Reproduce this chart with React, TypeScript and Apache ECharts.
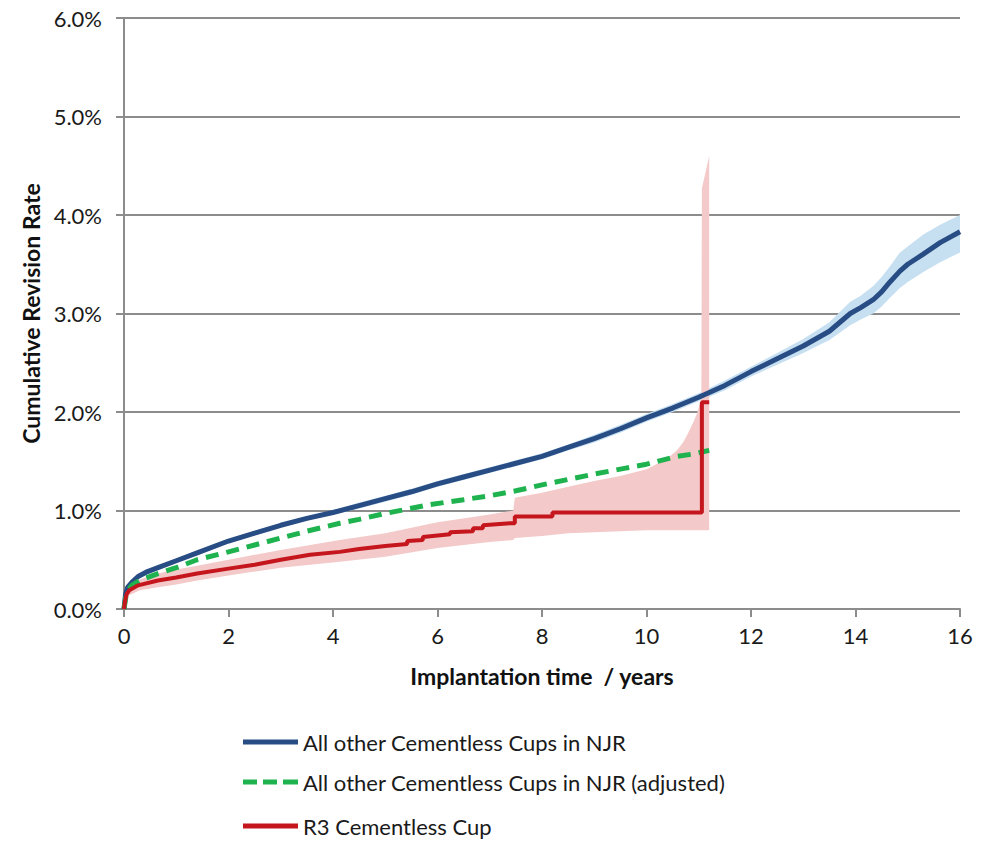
import React, { useEffect, useRef } from "react";
import * as echarts from "echarts";

// ---- data ----
const xTicks = [0, 2, 4, 6, 8, 10, 12, 14, 16];
const yTicks = [0, 1, 2, 3, 4, 5, 6];

const allYears = [0, 0.03, 0.07, 0.15, 0.27, 0.45, 0.65, 1.0, 1.4, 2.0, 2.5, 3.0, 3.5, 4.0, 4.5, 5.0, 5.5, 6.0, 6.5, 7.0, 7.5, 8.0, 8.5, 9.0, 9.5, 10.0, 10.5, 11.0, 11.5, 12.0, 12.5, 13.0, 13.5, 13.9, 14.1, 14.34, 14.5, 14.66, 14.85, 15.0, 15.29, 15.62, 16.0];
const allRate = [0, 0.15, 0.22, 0.27, 0.33, 0.38, 0.42, 0.49, 0.57, 0.69, 0.77, 0.85, 0.92, 0.98, 1.05, 1.12, 1.19, 1.27, 1.34, 1.41, 1.48, 1.55, 1.64, 1.73, 1.83, 1.94, 2.04, 2.15, 2.27, 2.41, 2.54, 2.67, 2.82, 3.0, 3.06, 3.14, 3.22, 3.32, 3.43, 3.5, 3.6, 3.72, 3.83];
const allLow = [0, 0.14, 0.2, 0.25, 0.31, 0.36, 0.4, 0.47, 0.55, 0.67, 0.75, 0.83, 0.9, 0.96, 1.02, 1.09, 1.16, 1.24, 1.31, 1.38, 1.45, 1.52, 1.61, 1.69, 1.79, 1.9, 2.0, 2.11, 2.22, 2.36, 2.48, 2.6, 2.73, 2.88, 2.94, 3.0, 3.07, 3.16, 3.26, 3.32, 3.42, 3.52, 3.62];
const allHigh = [0, 0.16, 0.24, 0.29, 0.35, 0.4, 0.44, 0.51, 0.59, 0.71, 0.79, 0.87, 0.94, 1.0, 1.08, 1.15, 1.22, 1.3, 1.37, 1.44, 1.51, 1.58, 1.67, 1.77, 1.87, 1.98, 2.08, 2.19, 2.32, 2.46, 2.6, 2.74, 2.91, 3.12, 3.18, 3.28, 3.37, 3.48, 3.62, 3.68, 3.8, 3.9, 4.0];

const adjYears = [0, 0.05, 0.15, 0.3, 0.65, 1.0, 1.4, 2.0, 2.5, 3.0, 3.5, 4.13, 4.5, 5.0, 5.86, 6.5, 7.0, 7.5, 8.0, 8.54, 9.0, 9.6, 10.0, 10.58, 10.85, 11.2];
const adjRate = [0, 0.17, 0.24, 0.29, 0.36, 0.42, 0.5, 0.58, 0.65, 0.72, 0.79, 0.87, 0.91, 0.97, 1.06, 1.11, 1.15, 1.2, 1.26, 1.32, 1.37, 1.43, 1.47, 1.55, 1.57, 1.61];

const r3Years = [0, 0.02, 0.05, 0.1, 0.27, 0.65, 1.0, 1.4, 2.0, 2.5, 3.0, 3.56, 4.13, 4.5, 5.0, 5.42, 5.42, 5.72, 5.72, 6.24, 6.24, 6.68, 6.68, 6.87, 6.87, 7.39, 7.48, 7.48, 8.2, 8.2, 11.06, 11.06, 11.2];
const r3Rate = [0, 0.08, 0.15, 0.19, 0.24, 0.29, 0.32, 0.36, 0.41, 0.45, 0.5, 0.55, 0.58, 0.61, 0.64, 0.66, 0.69, 0.7, 0.73, 0.76, 0.78, 0.79, 0.82, 0.82, 0.85, 0.87, 0.87, 0.94, 0.94, 0.98, 0.98, 2.1, 2.1];
const r3BandYears = [0, 0.05, 0.1, 0.3, 0.65, 1.0, 1.4, 2.0, 3.0, 4.13, 5.0, 6.0, 7.0, 7.45, 7.48, 8.0, 8.5, 9.0, 9.5, 10.0, 10.3, 10.45, 10.58, 10.7, 10.8, 10.9, 10.97, 11.05, 11.06, 11.2];
const r3Low = [0, 0.1, 0.14, 0.19, 0.22, 0.25, 0.29, 0.34, 0.42, 0.48, 0.53, 0.62, 0.68, 0.7, 0.72, 0.74, 0.77, 0.78, 0.79, 0.8, 0.8, 0.8, 0.8, 0.8, 0.8, 0.8, 0.8, 0.8, 0.8, 0.8];
const r3High = [0, 0.2, 0.25, 0.3, 0.36, 0.4, 0.44, 0.5, 0.6, 0.7, 0.77, 0.88, 0.96, 1.0, 1.13, 1.18, 1.24, 1.3, 1.35, 1.42, 1.5, 1.55, 1.61, 1.69, 1.79, 1.9, 1.99, 2.15, 4.27, 4.6];

const NAME_ALL = "All other Cementless Cups in NJR";
const NAME_ADJ = "All other Cementless Cups in NJR (adjusted)";
const NAME_R3 = "R3 Cementless Cup";
const legendNames = [NAME_ALL, NAME_ADJ, NAME_R3];

const FONT = "Lato";
const SOLID_ICON = "path://M0,0h55v5h-55z";
const DASH_ICON = "path://M0,0h14v5h-14z M20,0h14v5h-14z M40,0h15v5h-15z";

function bandSeries(years: number[], low: number[], high: number[], color: string, name: string) {
  const rows = years.map((x, i) => [x, low[i], high[i]]);
  return {
    type: "custom",
    name,
    z: 1,
    silent: true,
    data: rows,
    encode: { x: 0, y: [1, 2] },
    renderItem: (params: any, api: any) => {
      if (params.dataIndex !== 0) return null;
      const pts: number[][] = [];
      for (let i = 0; i < rows.length; i++) pts.push(api.coord([rows[i][0], rows[i][2]]));
      for (let i = rows.length - 1; i >= 0; i--) pts.push(api.coord([rows[i][0], rows[i][1]]));
      return {
        type: "polygon",
        shape: { points: pts },
        style: { fill: color, stroke: "none" },
      };
    },
  };
}

export default function App() {
  const ref = useRef<HTMLDivElement>(null);
  useEffect(() => {
    if (!ref.current) return;
    const chart = echarts.init(ref.current, null, { renderer: "svg" });
    const legendTops = [726, 766, 810];
    const legends = legendNames.map((name, i) => ({
      orient: "horizontal",
      left: 238,
      top: legendTops[i],
      itemWidth: 55,
      itemHeight: 5,
      itemGap: 10,
      data: [{ name, icon: i === 1 ? DASH_ICON : SOLID_ICON }],
      textStyle: { fontFamily: FONT, fontSize: 22, color: "#1a1a1a" },
    }));
    const option = {
      animation: false,
      backgroundColor: "#ffffff",
      grid: { left: 124, right: 27, top: 18, bottom: 235, containLabel: false },
      legend: legends,
      xAxis: {
        type: "value",
        min: 0,
        max: 16,
        interval: 2,
        name: "Implantation time  / years",
        nameLocation: "middle",
        nameGap: 55,
        nameTextStyle: { fontFamily: FONT, fontSize: 23, fontWeight: "bold", color: "#111" },
        axisLine: { show: true, lineStyle: { color: "#8c8c8c", width: 2 } },
        axisTick: { show: true, length: 8, lineStyle: { color: "#8c8c8c", width: 2 } },
        axisLabel: {
          margin: 15,
          fontFamily: FONT,
          fontSize: 22,
          color: "#1a1a1a",
          formatter: (v: number) => (xTicks.includes(v) ? String(v) : ""),
        },
        splitLine: { show: false },
      },
      yAxis: {
        type: "value",
        min: 0,
        max: 6,
        interval: 1,
        name: "Cumulative Revision Rate",
        nameLocation: "middle",
        nameGap: 80,
        nameTextStyle: { fontFamily: FONT, fontSize: 23, fontWeight: "bold", color: "#111" },
        axisLine: { show: true, lineStyle: { color: "#8c8c8c", width: 2 } },
        axisTick: { show: true, length: 8, lineStyle: { color: "#8c8c8c", width: 2 } },
        axisLabel: {
          margin: 22,
          fontFamily: FONT,
          fontSize: 22,
          color: "#1a1a1a",
          formatter: (v: number) => (yTicks.includes(v) ? v.toFixed(1) + "%" : ""),
        },
        splitLine: { show: true, lineStyle: { color: "#8c8c8c", width: 2 } },
      },
      series: [
        bandSeries(allYears, allLow, allHigh, "#c6dff1", "allBand"),
        bandSeries(r3BandYears, r3Low, r3High, "#f3c9c9", "r3Band"),
        {
          type: "line",
          name: NAME_ALL,
          z: 3,
          data: allYears.map((x, i) => [x, allRate[i]]),
          showSymbol: false,
          symbol: "none",
          lineStyle: { color: "#284c84", width: 5 },
          itemStyle: { color: "#284c84" },
        },
        {
          type: "line",
          name: NAME_ADJ,
          z: 4,
          data: adjYears.map((x, i) => [x, adjRate[i]]),
          showSymbol: false,
          symbol: "none",
          lineStyle: { color: "#1fb34f", width: 5, type: [13, 8], cap: "butt" },
          itemStyle: { color: "#1fb34f" },
        },
        {
          type: "line",
          name: NAME_R3,
          z: 5,
          data: r3Years.map((x, i) => [x, r3Rate[i]]),
          showSymbol: false,
          symbol: "none",
          lineStyle: { color: "#c4161c", width: 4 },
          itemStyle: { color: "#c4161c" },
        },
      ],
    };
    chart.setOption(option as any);
    return () => chart.dispose();
  }, []);
  return <div ref={ref} style={{ width: 987, height: 844, position: "absolute", left: 0, top: 0 }} />;
}
